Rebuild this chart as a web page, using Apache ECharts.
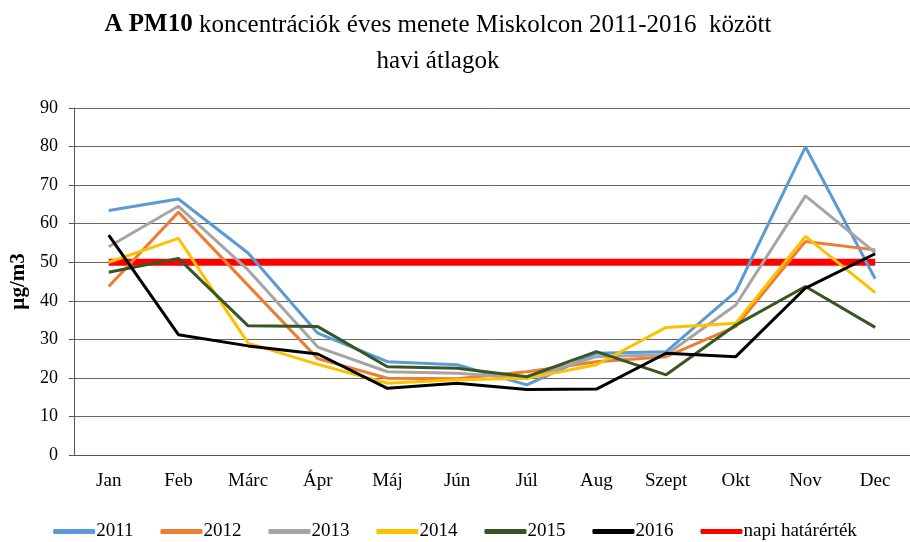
<!DOCTYPE html>
<html>
<head>
<meta charset="utf-8">
<script src="https://cdn.jsdelivr.net/npm/echarts@6/dist/echarts.min.js"></script>
<style>
  html, body { margin: 0; padding: 0; background: #fff; }
  #chart { width: 910px; height: 542px; }
</style>
</head>
<body>
<div id="chart"></div>
<script>
const months = ["Jan", "Feb", "Márc", "Ápr", "Máj", "Jún", "Júl", "Aug", "Szept", "Okt", "Nov", "Dec"];
const y2011 = [63.4, 66.4, 52.4, 31.6, 24.2, 23.4, 18.2, 26.4, 26.8, 42.4, 79.9, 45.7];
const y2012 = [43.7, 63.0, 44.0, 25.0, 19.9, 19.8, 21.6, 24.2, 25.5, 33.3, 55.4, 53.2];
const y2013 = [54.0, 64.5, 48.0, 28.0, 21.6, 21.2, 19.9, 25.5, 26.0, 38.9, 67.2, 52.5];
const y2014 = [50.0, 56.2, 29.0, 23.5, 18.6, 19.5, 19.9, 23.4, 33.1, 34.2, 56.7, 42.1];
const y2015 = [47.4, 51.0, 33.5, 33.3, 22.9, 22.5, 20.3, 26.8, 20.8, 33.7, 43.7, 33.1];
const y2016 = [57.0, 31.2, 28.3, 26.2, 17.3, 18.6, 17.0, 17.1, 26.4, 25.5, 43.3, 52.2];
const limit = [50, 50, 50, 50, 50, 50, 50, 50, 50, 50, 50, 50];

const serif = "Liberation Serif";
const chart = echarts.init(document.getElementById("chart"));

const mkLine = (name, data, color, width) => ({
  name: name,
  type: "line",
  data: data,
  symbol: "none",
  lineStyle: { color: color, width: width },
  itemStyle: { color: color },
  z: name === "napi határérték" ? 1 : 3
});

chart.setOption({
  animation: false,
  backgroundColor: "#fff",
  title: {
    text: "{b|A PM10} koncentrációk éves menete Miskolcon 2011-2016  között\nhavi átlagok",
    left: 433,
    textAlign: "center",
    top: 2,
    textStyle: {
      fontFamily: serif,
      fontSize: 25,
      fontWeight: "normal",
      color: "#000",
      lineHeight: 36,
      rich: {
        b: { fontFamily: serif, fontSize: 25, fontWeight: "bold", color: "#000", lineHeight: 36 }
      }
    }
  },
  legend: {
    bottom: -4,
    left: "center",
    itemWidth: 42,
    itemHeight: 5,
    itemGap: 27,
    icon: "roundRect",
    textStyle: { fontFamily: serif, fontSize: 19, color: "#000", padding: [0, 0, 0, -4] },
    data: ["2011", "2012", "2013", "2014", "2015", "2016", "napi határérték"]
  },
  grid: { left: 72, right: -8, top: 108, bottom: 87 },
  xAxis: {
    type: "category",
    data: months,
    axisLine: { lineStyle: { color: "#555", width: 1 } },
    axisTick: { length: 6, lineStyle: { color: "#555" } },
    axisLabel: { fontFamily: serif, fontSize: 19, color: "#000", margin: 17 }
  },
  yAxis: {
    type: "value",
    min: 0,
    max: 90,
    interval: 10,
    name: "µg/m3",
    nameLocation: "middle",
    nameGap: 37,
    nameRotate: 90,
    nameTextStyle: { fontFamily: serif, fontSize: 21, fontWeight: "bold", color: "#000" },
    axisLine: { show: true, lineStyle: { color: "#555" } },
    axisTick: { show: true, length: 5, lineStyle: { color: "#555" } },
    axisLabel: { fontFamily: serif, fontSize: 18, color: "#000", margin: 16 },
    splitLine: { lineStyle: { color: "#666", width: 1 } }
  },
  series: [
    mkLine("napi határérték", limit, "#ff0000", 7),
    mkLine("2011", y2011, "#5b9bd5", 3),
    mkLine("2012", y2012, "#ed7d31", 3),
    mkLine("2013", y2013, "#a5a5a5", 3),
    mkLine("2014", y2014, "#ffc000", 3),
    mkLine("2015", y2015, "#375623", 3),
    mkLine("2016", y2016, "#000000", 3)
  ]
});
</script>
</body>
</html>
